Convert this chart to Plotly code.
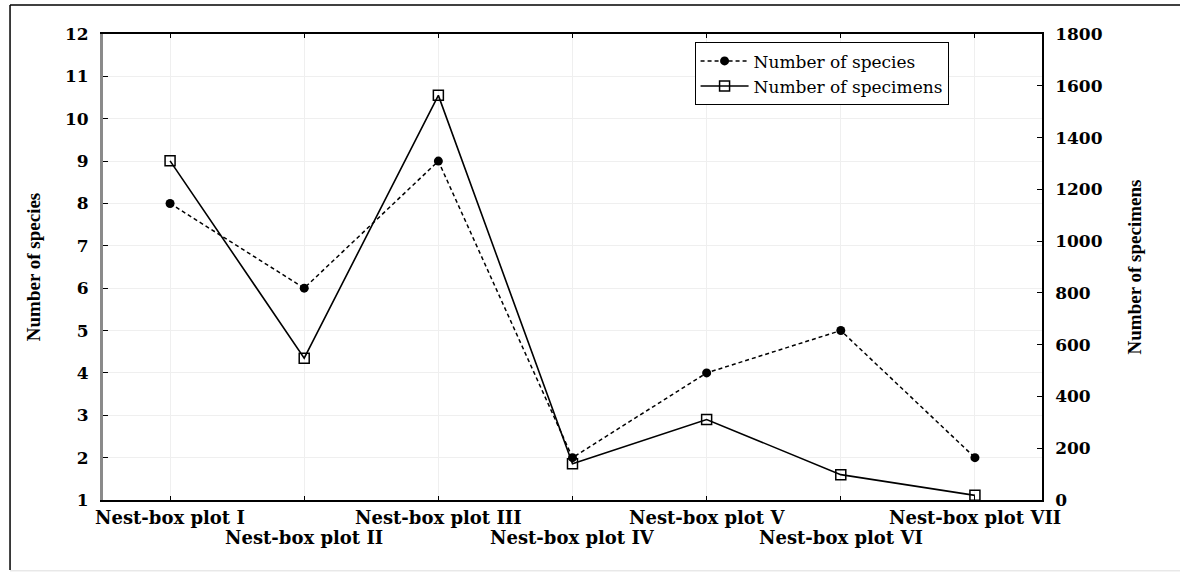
import plotly.graph_objects as go

# Nest-box plots and the two counts recorded for each
plots = ["Nest-box plot I", "Nest-box plot II", "Nest-box plot III", "Nest-box plot IV",
         "Nest-box plot V", "Nest-box plot VI", "Nest-box plot VII"]
species = [8, 6, 9, 2, 4, 5, 2]
specimens = [1310, 548, 1563, 140, 311, 98, 18]

species_ticks = list(range(1, 13))
specimen_ticks = list(range(0, 1801, 200))

TICK_FONT = dict(family="DejaVu Serif", size=17, color="black", weight="bold")
LABEL_FONT = dict(family="DejaVu Serif", size=18, color="black", weight="bold")
TITLE_FONT = dict(family="Liberation Serif", size=19, color="black", weight="bold")

fig = go.Figure()

fig.add_trace(go.Scatter(
    x=plots, y=species, name="Number of species", yaxis="y",
    mode="lines+markers",
    line=dict(color="black", width=1.5, dash="4px,3px"),
    marker=dict(symbol="circle", size=9, color="black"),
))
fig.add_trace(go.Scatter(
    x=plots, y=specimens, name="Number of specimens", yaxis="y2",
    mode="lines+markers",
    line=dict(color="black", width=1.6),
    marker=dict(symbol="square-open", size=10, color="black", line=dict(width=1.5)),
))

# Category labels staggered on two rows under the axis
annotations = []
for i, name in enumerate(plots):
    annotations.append(dict(
        x=name, xref="x", y=0, yref="paper", yanchor="middle",
        yshift=-17 if i % 2 == 0 else -37,
        text=name, showarrow=False, font=LABEL_FONT,
    ))

shapes = [
    # outer frame
    dict(type="line", xref="paper", yref="paper", x0=-0.099, x1=1.2, y0=1.062, y1=1.062,
         line=dict(color="black", width=1.5)),
    dict(type="line", xref="paper", yref="paper", x0=-0.099, x1=-0.099, y0=1.062, y1=-0.15,
         line=dict(color="black", width=1.5)),
    dict(type="line", xref="paper", yref="paper", x0=-0.099, x1=1.2, y0=-0.152, y1=-0.152,
         line=dict(color="#dddddd", width=1)),
]

fig.update_layout(
    width=1180, height=572,
    margin=dict(l=103, r=138, t=34, b=72),
    paper_bgcolor="white", plot_bgcolor="white",
    showlegend=True,
    legend=dict(
        x=0.630, y=0.982, xanchor="left", yanchor="top",
        bordercolor="black", borderwidth=1, bgcolor="white",
        font=dict(family="DejaVu Serif", size=17, color="black"),
        itemwidth=48, tracegroupgap=0,
    ),
    xaxis=dict(
        type="category", range=[-0.5, 6.5],
        showgrid=True, gridcolor="#efefef", gridwidth=1,
        showticklabels=False, ticks="inside", ticklen=4, tickcolor="black",
        showline=True, linecolor="black", linewidth=1.5, mirror="ticks",
        zeroline=False,
    ),
    yaxis=dict(
        range=[1, 12], tickvals=species_ticks,
        showgrid=True, gridcolor="#efefef", gridwidth=1,
        ticks="inside", ticklen=5, tickcolor="black",
        showline=True, linecolor="#8a8a8a", linewidth=3,
        tickfont=TICK_FONT, ticklabelstandoff=8,
        title=dict(text="Number of species", font=TITLE_FONT, standoff=20),
        zeroline=False,
    ),
    yaxis2=dict(
        range=[0, 1800], tickvals=specimen_ticks,
        overlaying="y", side="right",
        showgrid=False,
        ticks="inside", ticklen=5, tickcolor="black",
        showline=True, linecolor="black", linewidth=1.5,
        tickfont=TICK_FONT, ticklabelstandoff=8,
        title=dict(text="Number of specimens", font=TITLE_FONT, standoff=26),
        zeroline=False,
    ),
    annotations=annotations,
    shapes=shapes,
)

fig.write_html("out.html")
